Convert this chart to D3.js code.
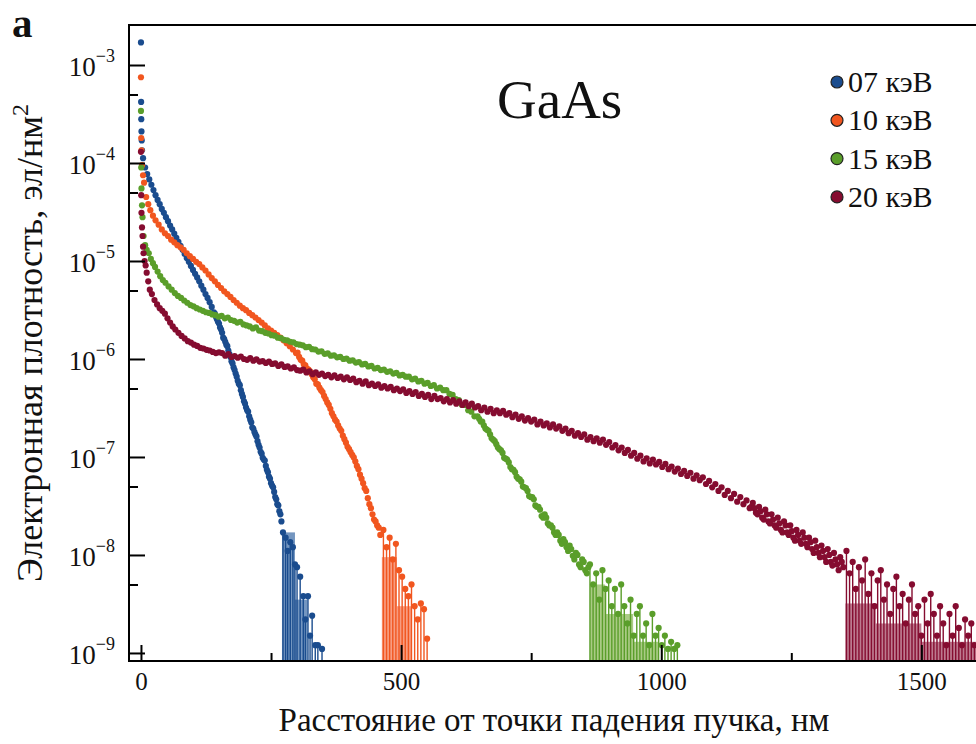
<!DOCTYPE html>
<html>
<head>
<meta charset="utf-8">
<script src="https://cdn.jsdelivr.net/npm/d3@7"></script>
<style>
  body { margin: 0; background: #fff; }
  svg { display: block; }
  text { font-family: "Liberation Serif", "Times New Roman", Times, Tinos, "DejaVu Serif", serif; fill: #111; }
</style>
</head>
<body>
<svg id="chart" width="976" height="744"></svg>
<script>
// Electron density vs. distance from the beam landing point, GaAs
const seriesLabels = ["07 кэВ", "10 кэВ", "15 кэВ", "20 кэВ"];

// [distance, nm ; density, el/nm^2]
const dens07 = [[0,1.7e-3],[0.3,4.2e-4],[0.6,2.8e-4],[1,2.1e-4],[1.5,1.7e-4],[2,1.35e-4],[4,1.12e-4],[8,9.0e-5],[12,7.7e-5],[16,6.8e-5],[20,6.0e-5],[24,5.3e-5],[28,4.7e-5],[32,4.2e-5],[36,3.8e-5],[40,3.4e-5],[44,3.1e-5],[48,2.8e-5],[52,2.55e-5],[56,2.3e-5],[60,2.1e-5],[64,1.9e-5],[68,1.72e-5],[72,1.57e-5],[76,1.43e-5],[80,1.3e-5],[84,1.18e-5],[88,1.07e-5],[92,9.8e-6],[96,8.9e-6],[100,8.1e-6],[104,7.4e-6],[108,6.8e-6],[112,6.2e-6],[116,5.6e-6],[120,5.1e-6],[124,4.6e-6],[128,4.2e-6],[132,3.8e-6],[136,3.4e-6],[140,3.0e-6],
  [142,2.9e-6],[144,2.7e-6],[146,2.55e-6],[148,2.4e-6],[150,2.3e-6],[152,2.1e-6],[154,2.0e-6],[156,1.85e-6],[158,1.65e-6],[160,1.6e-6],[162,1.5e-6],[164,1.4e-6],[166,1.35e-6],[168,1.22e-6],[170,1.12e-6],[172,1.05e-6],[174,9.5e-7],[176,9.0e-7],[178,8.2e-7],[180,7.7e-7],[182,7.1e-7],[184,6.6e-7],[186,6.0e-7],[188,5.6e-7],[190,5.4e-7],[192,4.8e-7],[194,4.4e-7],[196,4.1e-7],[198,3.7e-7],[200,3.5e-7],[202,3.2e-7],[204,3.0e-7],[206,2.9e-7],[208,2.6e-7],[210,2.4e-7],[212,2.25e-7],[214,2.0e-7],[216,1.95e-7],[218,1.8e-7],[220,1.7e-7],[222,1.62e-7],[224,1.45e-7],[226,1.33e-7],[228,1.25e-7],[230,1.13e-7],[232,1.08e-7],[234,9.8e-8],[236,9.4e-8],[238,9.2e-8],[240,8.1e-8],[242,7.4e-8],[244,7.0e-8],[246,6.3e-8],[248,6.0e-8],[250,5.4e-8],[252,5.1e-8],[254,4.9e-8],[256,4.4e-8],[258,3.9e-8],[260,3.7e-8],[262,3.3e-8],[264,3.2e-8],[266,2.8e-8],[268,2.6e-8],[270,2.2e-8],
  [273,1.7e-8],[278,1.5e-8],[282,1.1e-8],[287,1.35e-8],[292,1.2e-8],[296,8e-9],[300,7.5e-9],[306,6e-9],[312,3.8e-9],[316,2.2e-9],[321,3.8e-9],[325,1.5e-9],[329,2.4e-9],[335,1.2e-9],[340,1.2e-9],[348,1.1e-9]];

const dens10 = [[0,7.5e-4],[0.5,1.8e-4],[1,1.35e-4],[2,9.5e-5],[4,7.5e-5],[6,6.3e-5],[10,4.5e-5],[14,3.8e-5],[18,3.3e-5],[23,2.9e-5],[28,2.6e-5],[34,2.35e-5],[40,2.1e-5],[46,1.92e-5],[52,1.8e-5],[58,1.65e-5],[64,1.55e-5],[70,1.45e-5],[76,1.38e-5],[82,1.3e-5],[88,1.2e-5],[94,1.12e-5],[100,1.05e-5],[106,9.8e-6],[112,9.3e-6],[118,8.6e-6],[124,8.0e-6],[130,7.3e-6],[136,6.7e-6],[142,6.2e-6],[148,5.7e-6],[154,5.3e-6],[160,4.9e-6],[166,4.6e-6],[172,4.3e-6],[178,4.0e-6],[184,3.75e-6],[190,3.5e-6],[196,3.3e-6],[202,3.15e-6],[208,2.95e-6],[214,2.8e-6],[220,2.65e-6],[226,2.5e-6],[232,2.35e-6],[238,2.2e-6],[244,2.05e-6],[250,1.95e-6],[256,1.85e-6],[262,1.75e-6],[268,1.65e-6],[274,1.55e-6],[280,1.45e-6],[286,1.35e-6],[292,1.25e-6],
  [298,1.15e-6],[301,1.16e-6],[304,1.05e-6],[307,9.8e-7],[310,9.6e-7],[313,8.8e-7],[316,8.6e-7],[319,8.0e-7],[322,7.8e-7],[325,7.5e-7],[328,7.0e-7],[331,6.5e-7],[334,6.2e-7],[337,5.6e-7],[340,5.5e-7],[343,5.1e-7],[346,4.8e-7],[349,4.6e-7],[352,4.2e-7],[355,3.9e-7],[358,3.6e-7],[361,3.4e-7],[364,3.1e-7],[367,2.8e-7],[370,2.6e-7],[373,2.4e-7],[376,2.3e-7],[379,2.1e-7],[382,1.95e-7],[385,1.85e-7],[388,1.65e-7],[391,1.52e-7],[394,1.4e-7],[397,1.27e-7],[400,1.2e-7],[403,1.12e-7],[406,1.05e-7],[409,9.9e-8],[412,9.0e-8],[415,8.1e-8],[418,7.5e-8],[421,6.6e-8],[424,6.0e-8],[427,5.4e-8],[430,4.8e-8],[433,4.5e-8],[436,3.8e-8],[439,3.3e-8],[442,3.0e-8],[445,2.6e-8],[448,2.3e-8],[451,2.2e-8],[454,2.0e-8],[457,1.9e-8],[460,1.6e-8],
  [466,1.8e-8],[472,1.2e-8],[478,1.5e-8],[484,9e-9],[490,1.3e-8],[496,7e-9],[502,6e-9],[508,4.5e-9],[514,3.8e-9],[520,5e-9],[526,3e-9],[532,2.2e-9],[538,3.2e-9],[544,2.8e-9],[550,1.4e-9]];

const dens15 = [[0,3.4e-4],[0.5,9e-5],[1,5.5e-5],[2,3.7e-5],[3,2.8e-5],[5,1.8e-5],[8,1.45e-5],[11,1.3e-5],[15,1.2e-5],[19,1.05e-5],[23,9.5e-6],[27,8.7e-6],[32,7.8e-6],[37,7.0e-6],[42,6.4e-6],[47,6.0e-6],[53,5.5e-6],[59,5.1e-6],[65,4.7e-6],[71,4.4e-6],[77,4.2e-6],[83,3.95e-6],[89,3.75e-6],[95,3.55e-6],[101,3.45e-6],[107,3.3e-6],[113,3.2e-6],[119,3.1e-6],[125,3.0e-6],[131,2.95e-6],[137,2.85e-6],[143,2.8e-6],[149,2.7e-6],
  [155,2.75e-6],[161,2.6e-6],[167,2.65e-6],[173,2.5e-6],[179,2.45e-6],[185,2.35e-6],[191,2.4e-6],[197,2.25e-6],[203,2.2e-6],[209,2.15e-6],[215,2.05e-6],[221,2.1e-6],[227,1.95e-6],[233,1.92e-6],[239,1.85e-6],[245,1.82e-6],[251,1.75e-6],[257,1.73e-6],[263,1.65e-6],[269,1.63e-6],[275,1.57e-6],[281,1.55e-6],[287,1.5e-6],[293,1.48e-6],[299,1.42e-6],[305,1.4e-6],
  [311,1.38e-6],[317,1.32e-6],[323,1.33e-6],[329,1.26e-6],[335,1.25e-6],[341,1.19e-6],[347,1.2e-6],[353,1.13e-6],[359,1.14e-6],[365,1.08e-6],[371,1.09e-6],[377,1.04e-6],[383,1.05e-6],[389,1.0e-6],[395,1.01e-6],[401,9.6e-7],
  [407,9.7e-7],[413,9.2e-7],[419,9.3e-7],[425,8.8e-7],[431,8.9e-7],[437,8.4e-7],[443,8.5e-7],[449,8.0e-7],[455,8.1e-7],[461,7.7e-7],[467,7.8e-7],[473,7.4e-7],[479,7.5e-7],[485,7.1e-7],[491,7.2e-7],[497,6.8e-7],
  [503,6.9e-7],[509,6.6e-7],[515,6.6e-7],[521,6.2e-7],[527,6.3e-7],[533,5.9e-7],[539,6.0e-7],[545,5.6e-7],[551,5.7e-7],[557,5.3e-7],[563,5.4e-7],[569,5.0e-7],[575,5.1e-7],[581,4.8e-7],
  [587,4.8e-7],[593,4.4e-7],[599,4.3e-7],[605,3.9e-7],[611,3.8e-7],[617,3.4e-7],[623,3.4e-7],[629,3.0e-7],[635,2.9e-7],[641,2.6e-7],
  [647,2.6e-7],[650,2.45e-7],[653,2.3e-7],[656,2.3e-7],[659,2.1e-7],[662,1.95e-7],[665,1.9e-7],[668,1.85e-7],[671,1.7e-7],[674,1.55e-7],[677,1.5e-7],[680,1.45e-7],[683,1.35e-7],[686,1.25e-7],[689,1.2e-7],[692,1.17e-7],[695,1.1e-7],[698,9.8e-8],[701,9.6e-8],[704,9.4e-8],[707,8.8e-8],[710,7.9e-8],[713,7.5e-8],[716,7.4e-8],[719,7.0e-8],[722,6.3e-8],[725,6.0e-8],[728,5.9e-8],[731,5.6e-8],[734,5.0e-8],[737,4.9e-8],[740,4.8e-8],[743,4.5e-8],[746,4.0e-8],[749,3.9e-8],[752,3.9e-8],[755,3.7e-8],[758,3.2e-8],[761,3.1e-8],[764,3.1e-8],[767,2.9e-8],[770,2.5e-8],[773,2.4e-8],[776,2.6e-8],[779,2.4e-8],[782,2.1e-8],[785,2.0e-8],[788,2.0e-8],[791,1.9e-8],[794,1.7e-8],[797,1.6e-8],[800,1.7e-8],[803,1.6e-8],[806,1.4e-8],[809,1.3e-8],[812,1.45e-8],[815,1.35e-8],[818,1.2e-8],[821,1.1e-8],[824,1.25e-8],[827,1.15e-8],[830,9.8e-9],[833,9.0e-9],[836,1.05e-8],[839,1.0e-8],[842,8.0e-9],[845,7.5e-9],[848,9.0e-9],[851,8.5e-9],[854,7.0e-9],[857,6.5e-9],[860,7.5e-9],
  [863,8.0e-9],[869,5.0e-9],[875,6.5e-9],[881,3.5e-9],[887,7.0e-9],[893,4.5e-9],[899,5.5e-9],[905,3.0e-9],[911,4.5e-9],[917,2.5e-9],[923,5.0e-9],[929,3.0e-9],[935,2.0e-9],[941,3.5e-9],[947,1.5e-9],[953,2.5e-9],[959,3.0e-9],[965,1.5e-9],[971,2.0e-9],[977,1.2e-9],[983,2.5e-9],[989,1.5e-9],[995,1.8e-9],[1001,1.2e-9],[1007,1.5e-9],[1013,1.1e-9],[1019,1.3e-9],[1025,1.1e-9],[1031,1.2e-9]];

const dens20 = [[0,1.3e-4],[0.5,4.7e-5],[1,3.1e-5],[2,2.2e-5],[3,1.8e-5],[4,1.4e-5],[5,1.2e-5],[7,1.0e-5],[9,9.0e-6],[11,7.6e-6],[14,6.2e-6],[17,5.1e-6],[21,4.6e-6],[26,4.0e-6],[31,3.6e-6],[36,3.3e-6],[41,3.1e-6],[46,2.9e-6],[51,2.6e-6],[56,2.35e-6],[61,2.15e-6],[66,2.0e-6],[72,1.85e-6],[78,1.72e-6],[84,1.62e-6],[90,1.52e-6],[96,1.47e-6],[102,1.40e-6],[108,1.36e-6],[114,1.30e-6],[120,1.28e-6],[126,1.24e-6],[132,1.22e-6],[138,1.18e-6],[144,1.15e-6],
  [150,1.17e-6],[156,1.15e-6],[162,1.08e-6],[168,1.12e-6],[174,1.05e-6],[180,1.07e-6],[186,1.03e-6],[192,1.06e-6],[198,1.0e-6],[204,9.8e-7],[210,1.02e-6],[216,9.6e-7],[222,9.9e-7],[228,9.4e-7],[234,9.5e-7],[240,9.1e-7],[246,9.4e-7],[252,8.9e-7],[258,9.0e-7],[264,8.5e-7],[270,8.8e-7],[276,8.3e-7],[282,8.4e-7],[288,8.0e-7],[294,8.2e-7],[300,7.7e-7],[306,7.6e-7],
  [312,7.8e-7],[318,7.3e-7],[324,7.5e-7],[330,7.0e-7],[336,7.3e-7],[342,6.9e-7],[348,7.1e-7],[354,6.7e-7],[360,6.9e-7],[366,6.5e-7],[372,6.8e-7],[378,6.4e-7],[384,6.6e-7],[390,6.2e-7],[396,6.5e-7],[402,6.1e-7],
  [408,6.3e-7],[414,5.8e-7],[420,6.0e-7],[426,5.6e-7],[432,5.9e-7],[438,5.4e-7],[444,5.6e-7],[450,5.3e-7],[456,5.5e-7],[462,5.1e-7],[468,5.3e-7],[474,5.0e-7],[480,5.2e-7],[486,4.8e-7],[492,5.0e-7],[498,4.7e-7],
  [504,4.9e-7],[510,4.5e-7],[516,4.7e-7],[522,4.4e-7],[528,4.6e-7],[534,4.2e-7],[540,4.4e-7],[546,4.1e-7],[552,4.3e-7],[558,3.9e-7],[564,4.2e-7],[570,3.9e-7],[576,4.0e-7],[582,3.7e-7],[588,3.9e-7],[594,3.6e-7],
  [600,3.8e-7],[606,3.5e-7],[612,3.7e-7],[618,3.4e-7],[624,3.6e-7],[630,3.3e-7],[636,3.5e-7],[642,3.2e-7],[648,3.3e-7],[654,3.0e-7],[660,3.2e-7],[666,2.9e-7],[672,3.1e-7],[678,2.8e-7],[684,3.0e-7],[690,2.8e-7],
  [696,2.95e-7],[702,2.7e-7],[708,2.8e-7],[714,2.55e-7],[720,2.7e-7],[726,2.45e-7],[732,2.6e-7],[738,2.35e-7],[744,2.5e-7],[750,2.3e-7],[756,2.4e-7],[762,2.15e-7],[768,2.3e-7],[774,2.1e-7],[780,2.2e-7],[786,2.0e-7],
  [792,2.15e-7],[798,1.95e-7],[804,2.05e-7],[810,1.85e-7],[816,1.95e-7],[822,1.75e-7],[828,1.85e-7],[834,1.65e-7],[840,1.75e-7],[846,1.6e-7],[852,1.7e-7],[858,1.5e-7],[864,1.6e-7],[870,1.45e-7],[876,1.55e-7],[882,1.4e-7],
  [888,1.5e-7],[894,1.33e-7],[900,1.42e-7],[906,1.25e-7],[912,1.32e-7],[918,1.17e-7],[924,1.25e-7],[930,1.1e-7],[936,1.18e-7],[942,1.03e-7],[948,1.1e-7],[954,9.6e-8],[960,1.03e-7],[966,9.0e-8],[972,9.7e-8],[978,8.6e-8],
  [984,9.4e-8],[990,8.4e-8],[996,8.9e-8],[1002,7.9e-8],[1008,8.5e-8],[1014,7.5e-8],[1020,8.0e-8],[1026,7.1e-8],[1032,7.6e-8],[1038,6.7e-8],[1044,7.2e-8],[1050,6.4e-8],[1056,6.9e-8],[1062,6.0e-8],[1068,6.5e-8],[1074,5.8e-8],
  [1080,6.2e-8],[1086,5.3e-8],[1092,5.7e-8],[1098,4.9e-8],[1104,5.3e-8],[1110,4.5e-8],[1116,4.9e-8],[1122,4.1e-8],[1128,4.5e-8],[1134,3.8e-8],[1140,4.2e-8],[1146,3.5e-8],[1152,3.9e-8],[1158,3.3e-8],[1164,3.6e-8],
  [1170,3.0e-8],[1173,3.1e-8],[1176,3.4e-8],[1179,3.0e-8],[1182,2.7e-8],[1185,2.6e-8],[1188,3.1e-8],[1191,2.8e-8],[1194,2.4e-8],[1197,2.3e-8],[1200,2.9e-8],[1203,2.6e-8],[1206,2.2e-8],[1209,2.1e-8],[1212,2.6e-8],[1215,2.3e-8],[1218,2.0e-8],[1221,1.9e-8],[1224,2.4e-8],[1227,2.1e-8],[1230,1.8e-8],[1233,1.7e-8],[1236,2.2e-8],[1239,2.0e-8],[1242,1.7e-8],[1245,1.6e-8],[1248,2.0e-8],[1251,1.75e-8],[1254,1.5e-8],[1257,1.4e-8],[1260,1.8e-8],[1263,1.6e-8],[1266,1.4e-8],[1269,1.3e-8],[1272,1.7e-8],[1275,1.5e-8],[1278,1.3e-8],[1281,1.2e-8],[1284,1.5e-8],[1287,1.35e-8],[1290,1.15e-8],[1293,1.05e-8],[1296,1.4e-8],[1299,1.2e-8],[1302,1.05e-8],[1305,9.5e-9],[1308,1.25e-8],[1311,1.1e-8],[1314,9.5e-9],[1317,8.5e-9],[1320,1.15e-8],[1323,1.0e-8],[1326,8.5e-9],[1329,7.8e-9],[1332,1.05e-8],[1335,9.0e-9],[1338,8.0e-9],[1341,7.0e-9],[1344,9.5e-9],[1347,8.5e-9],[1350,7.5e-9],
  [1356,1.1e-8],[1362,6.5e-9],[1368,8.5e-9],[1374,4.5e-9],[1380,7.5e-9],[1386,5.5e-9],[1392,9.0e-9],[1398,4.0e-9],[1404,6.5e-9],[1410,3.0e-9],[1416,5.5e-9],[1422,7.0e-9],[1428,3.5e-9],[1434,5.0e-9],[1440,2.5e-9],[1446,4.5e-9],[1452,6.0e-9],[1458,3.0e-9],[1464,4.0e-9],[1470,2.0e-9],[1476,3.5e-9],[1482,5.0e-9],[1488,2.5e-9],[1494,3.0e-9],[1500,1.5e-9],[1506,3.5e-9],[1512,2.0e-9],[1518,4.0e-9],[1524,2.5e-9],[1530,1.5e-9],[1536,3.0e-9],[1542,2.0e-9],[1548,1.2e-9],[1554,2.5e-9],[1560,1.5e-9],[1566,3.0e-9],[1572,1.8e-9],[1578,1.2e-9],[1584,2.2e-9],[1590,1.5e-9],[1596,2.0e-9],[1602,1.2e-9]];

// distance where the sparse, low-count tail begins (drawn with stems)
const tailStart = [271, 463, 863, 1354];

// shaded low-count bins: [from, to, level]
const shade07 = [[271, 296, 1.7e-8], [296, 320, 3.5e-9]];
const shade10 = [[463, 492, 9.5e-9], [492, 520, 3e-9]];
const shade15 = [[863, 892, 5e-9], [892, 946, 2.5e-9], [946, 994, 1.3e-9]];
const shade20 = [[1354, 1412, 3.2e-9], [1412, 1500, 2e-9], [1500, 1606, 1.3e-9]];

const xTicksMajor = [0, 500, 1000, 1500];
const xTicksMinor = [250, 750, 1250];
const yTicksMajor = [1e-3, 1e-4, 1e-5, 1e-6, 1e-7, 1e-8, 1e-9];
const yTicksMinor = [5e-4, 5e-5, 5e-6, 5e-7, 5e-8, 5e-9];

const colors = ["#1a4c8e", "#f1561f", "#5a9e2a", "#850c30"];
const shadeColors = ["#7496c0", "#f89c80", "#aacb85", "#bd7a8f"];

const densities = [dens07, dens10, dens15, dens20];
const shades = [shade07, shade10, shade15, shade20];

const FONT = '"Liberation Serif", "Times New Roman", Times, Tinos, "DejaVu Serif", serif';

const svg = d3.select("#chart");
const L = 129, R = 989, T = 25, B = 661;

const x = d3.scaleLinear().domain([-23, 1630]).range([L, R]);
const y = d3.scaleLog().domain([8.28e-10, 2.56e-3]).range([B, T]);

svg.append("defs").append("clipPath").attr("id", "plotClip")
  .append("rect").attr("x", L).attr("y", T).attr("width", R - L).attr("height", B - T);

const plot = svg.append("g").attr("clip-path", "url(#plotClip)");

// shaded tail bins
shades.forEach((bins, i) => {
  plot.append("g").selectAll("rect").data(bins).join("rect")
    .attr("x", d => x(d[0]))
    .attr("width", d => x(d[1]) - x(d[0]))
    .attr("y", d => y(d[2]))
    .attr("height", d => B - y(d[2]))
    .attr("fill", shadeColors[i]);
});

// stems for the tail points
densities.forEach((pts, i) => {
  const tail = pts.filter(d => d[0] >= tailStart[i]);
  plot.append("g").selectAll("line").data(tail).join("line")
    .attr("x1", d => x(d[0])).attr("x2", d => x(d[0]))
    .attr("y1", d => y(d[1])).attr("y2", B)
    .attr("stroke", colors[i]).attr("stroke-width", 1.4);
});

// scatter points
densities.forEach((pts, i) => {
  plot.append("g").selectAll("circle").data(pts).join("circle")
    .attr("cx", d => x(d[0]))
    .attr("cy", d => y(d[1]))
    .attr("r", 3.1)
    .attr("fill", colors[i]);
});

// frame
const frame = svg.append("g").attr("stroke", "#000").attr("stroke-width", 2).attr("fill", "none");
frame.append("line").attr("x1", L).attr("x2", L).attr("y1", T).attr("y2", B + 1);
frame.append("line").attr("x1", L - 1).attr("x2", 976).attr("y1", B).attr("y2", B);
frame.append("line").attr("x1", L - 1).attr("x2", 976).attr("y1", T).attr("y2", T);

// x axis (ticks point inward)
const xAxis = svg.append("g").attr("transform", `translate(0,${B})`)
  .call(d3.axisBottom(x).tickValues(xTicksMajor).tickSizeInner(-16).tickSizeOuter(0).tickPadding(12).tickFormat(d3.format("d")));
const xAxisMinor = svg.append("g").attr("transform", `translate(0,${B})`)
  .call(d3.axisBottom(x).tickValues(xTicksMinor).tickSizeInner(-8).tickSizeOuter(0).tickFormat(""));

// y axis
const yAxis = svg.append("g").attr("transform", `translate(${L},0)`)
  .call(d3.axisLeft(y).tickValues(yTicksMajor).tickSizeInner(-16).tickSizeOuter(0).tickPadding(14).tickFormat(() => ""));
const yAxisMinor = svg.append("g").attr("transform", `translate(${L},0)`)
  .call(d3.axisLeft(y).tickValues(yTicksMinor).tickSizeInner(-9).tickSizeOuter(0).tickFormat(""));

[xAxis, xAxisMinor, yAxis, yAxisMinor].forEach(g => {
  g.attr("font-family", FONT);
  g.select(".domain").remove();
  g.selectAll(".tick line").attr("stroke", "#000").attr("stroke-width", 2);
});

xAxis.selectAll(".tick text")
  .attr("font-size", 25).attr("fill", "#111").attr("dy", "0.68em");

yAxis.selectAll(".tick text").each(function (d) {
  const t = d3.select(this)
    .attr("font-size", 27).attr("fill", "#111").attr("dy", "0.4em");
  t.text("10");
  t.append("tspan").attr("font-size", 18).attr("dy", "-0.8em").text("\u2212" + Math.round(-Math.log10(d)));
});

// axis titles
svg.append("text")
  .attr("x", 554).attr("y", 731).attr("text-anchor", "middle")
  .attr("font-family", FONT).attr("font-size", 33)
  .text("Расстояние от точки падения пучка, нм");

const yTitle = svg.append("text")
  .attr("transform", "translate(42,343) rotate(-90)")
  .attr("text-anchor", "middle").attr("font-family", FONT).attr("font-size", 36);
yTitle.append("tspan").text("Электронная плотность, эл/нм");
yTitle.append("tspan").attr("font-size", 24).attr("dy", "-0.6em").text("2");

// panel letter and material label
svg.append("text").attr("x", 12).attr("y", 37).attr("font-family", FONT)
  .attr("font-size", 41).attr("font-weight", "bold").text("a");
svg.append("text").attr("x", 497).attr("y", 118).attr("font-family", FONT)
  .attr("font-size", 55).text("GaAs");

// legend
const legend = svg.append("g");
seriesLabels.forEach((lab, i) => {
  const g = legend.append("g").attr("transform", `translate(837,${82 + i * 38.3})`);
  g.append("circle").attr("r", 6).attr("fill", colors[i]).attr("stroke", "#222").attr("stroke-width", 1.2);
  g.append("text").attr("x", 11).attr("y", 10).attr("font-family", FONT).attr("font-size", 30).text(lab);
});
</script>
</body>
</html>
